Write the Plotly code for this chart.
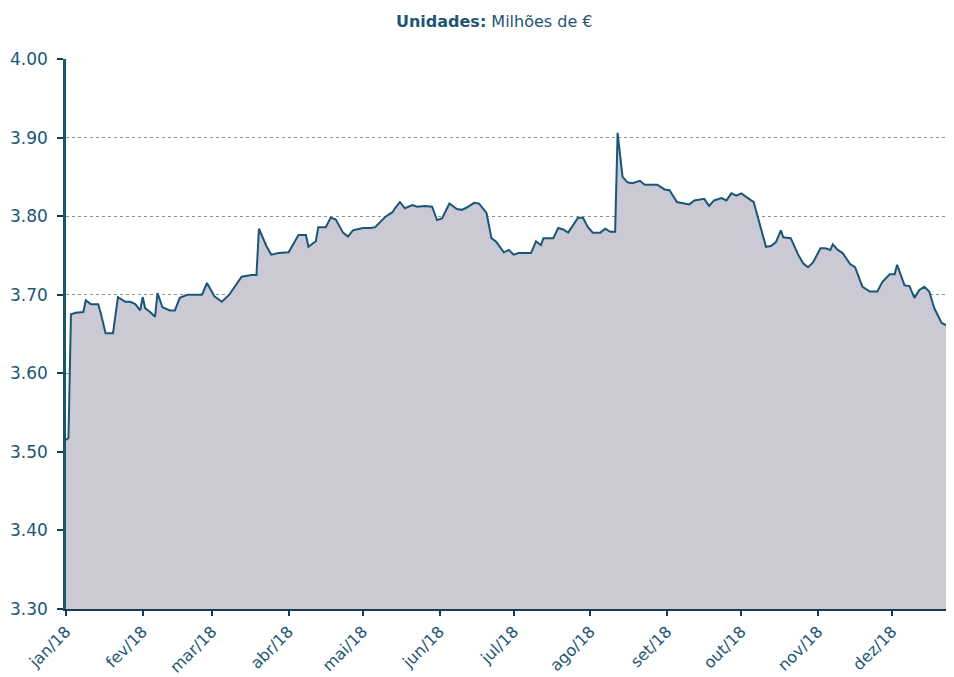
import plotly.graph_objects as go

dates = [
    "2018-01-01", "2018-01-02", "2018-01-03", "2018-01-05", "2018-01-08", "2018-01-09",
    "2018-01-11", "2018-01-14", "2018-01-15", "2018-01-17", "2018-01-20", "2018-01-22",
    "2018-01-25", "2018-01-27", "2018-01-29", "2018-01-31", "2018-02-01", "2018-02-02",
    "2018-02-04", "2018-02-06", "2018-02-07", "2018-02-09", "2018-02-12", "2018-02-14",
    "2018-02-16", "2018-02-19", "2018-02-25", "2018-02-27", "2018-03-02", "2018-03-05",
    "2018-03-08", "2018-03-13", "2018-03-17", "2018-03-19", "2018-03-20", "2018-03-23",
    "2018-03-25", "2018-03-28", "2018-04-01", "2018-04-05", "2018-04-08", "2018-04-09",
    "2018-04-12", "2018-04-13", "2018-04-16", "2018-04-18", "2018-04-20", "2018-04-23",
    "2018-04-25", "2018-04-27", "2018-05-01", "2018-05-04", "2018-05-06", "2018-05-10",
    "2018-05-13", "2018-05-14", "2018-05-16", "2018-05-18", "2018-05-21", "2018-05-23",
    "2018-05-26", "2018-05-29", "2018-05-31", "2018-06-02", "2018-06-05", "2018-06-08",
    "2018-06-10", "2018-06-12", "2018-06-15", "2018-06-17", "2018-06-20", "2018-06-22",
    "2018-06-24", "2018-06-25", "2018-06-27", "2018-06-29", "2018-07-01", "2018-07-03",
    "2018-07-08", "2018-07-10", "2018-07-12", "2018-07-13", "2018-07-17", "2018-07-19",
    "2018-07-21", "2018-07-23", "2018-07-25", "2018-07-27", "2018-07-29", "2018-07-31",
    "2018-08-02", "2018-08-05", "2018-08-07", "2018-08-09", "2018-08-11", "2018-08-12",
    "2018-08-14", "2018-08-16", "2018-08-18", "2018-08-21", "2018-08-23", "2018-08-28",
    "2018-08-31", "2018-09-02", "2018-09-05", "2018-09-10", "2018-09-12", "2018-09-16",
    "2018-09-18", "2018-09-20", "2018-09-23", "2018-09-25", "2018-09-27", "2018-09-29",
    "2018-10-01", "2018-10-03", "2018-10-05", "2018-10-06", "2018-10-08", "2018-10-11",
    "2018-10-13", "2018-10-15", "2018-10-17", "2018-10-18", "2018-10-21", "2018-10-24",
    "2018-10-26", "2018-10-28", "2018-10-30", "2018-11-02", "2018-11-04", "2018-11-06",
    "2018-11-07", "2018-11-09", "2018-11-11", "2018-11-14", "2018-11-16", "2018-11-19",
    "2018-11-22", "2018-11-25", "2018-11-27", "2018-11-30", "2018-12-02", "2018-12-03",
    "2018-12-06", "2018-12-08", "2018-12-10", "2018-12-12", "2018-12-14", "2018-12-16",
    "2018-12-18", "2018-12-21", "2018-12-23", "2018-12-24", "2018-12-27",
]

values = [
    3.515, 3.518, 3.675, 3.677, 3.678, 3.693,
    3.688, 3.688, 3.677, 3.651, 3.651, 3.697,
    3.691, 3.691, 3.688, 3.680, 3.697, 3.683,
    3.678, 3.672, 3.702, 3.684, 3.680, 3.680,
    3.696, 3.700, 3.700, 3.715, 3.698, 3.691,
    3.700, 3.723, 3.725, 3.725, 3.784, 3.762,
    3.751, 3.753, 3.754, 3.776, 3.776, 3.761,
    3.768, 3.786, 3.786, 3.798, 3.796, 3.779,
    3.774, 3.782, 3.785, 3.785, 3.786, 3.799,
    3.805, 3.810, 3.818, 3.810, 3.814, 3.812,
    3.813, 3.812, 3.795, 3.797, 3.816, 3.809,
    3.808, 3.811, 3.817, 3.816, 3.804, 3.772,
    3.767, 3.763, 3.754, 3.757, 3.751, 3.753,
    3.753, 3.768, 3.763, 3.772, 3.772, 3.785,
    3.783, 3.779, 3.788, 3.798, 3.798, 3.786,
    3.779, 3.779, 3.784, 3.780, 3.780, 3.906,
    3.850, 3.843, 3.842, 3.845, 3.840, 3.840,
    3.834, 3.833, 3.818, 3.815, 3.820, 3.822,
    3.813, 3.820, 3.823, 3.820, 3.829, 3.826,
    3.829, 3.824, 3.820, 3.818, 3.795, 3.761,
    3.762, 3.767, 3.782, 3.773, 3.772, 3.751,
    3.740, 3.735, 3.741, 3.759, 3.759, 3.757,
    3.764, 3.757, 3.753, 3.739, 3.735, 3.710,
    3.704, 3.704, 3.716, 3.726, 3.726, 3.738,
    3.712, 3.711, 3.696, 3.706, 3.710, 3.704,
    3.683, 3.664, 3.661, 3.655, 3.655,
]

tick_dates = [
    "2018-01-01", "2018-02-01", "2018-03-01", "2018-04-01", "2018-05-01", "2018-06-01",
    "2018-07-01", "2018-08-01", "2018-09-01", "2018-10-01", "2018-11-01", "2018-12-01",
]
tick_labels = [
    "jan/18", "fev/18", "mar/18", "abr/18", "mai/18", "jun/18",
    "jul/18", "ago/18", "set/18", "out/18", "nov/18", "dez/18",
]
y_ticks = [3.30, 3.40, 3.50, 3.60, 3.70, 3.80, 3.90, 4.00]

text_color = "#1d5673"
font_family = "DejaVu Sans, sans-serif"

fig = go.Figure()
fig.add_trace(go.Scatter(
    x=dates, y=values, mode="lines",
    line=dict(color="#1a5677", width=2),
    fill="tozeroy", fillcolor="#cbcad4",
    hoverinfo="skip",
))

# The page body has an 8px default margin, so the figure is sized and
# its margins set so the plot lands where the reference shows it.
fig.update_layout(
    width=946, height=669,
    margin=dict(l=58, r=0, t=51, b=68, autoexpand=False),
    paper_bgcolor="white", plot_bgcolor="white",
    showlegend=False,
    title=dict(
        text="<b>Unidades:</b> Milhões de €",
        x=0.514, xanchor="center", y=1 - 13 / 669, yanchor="middle",
        font=dict(family=font_family, size=16, color=text_color),
    ),
    font=dict(family=font_family, size=14, color=text_color),
)

fig.update_xaxes(
    type="date",
    range=["2018-01-01", "2018-12-26"],
    tickvals=tick_dates, ticktext=tick_labels,
    tickangle=-45,
    ticks="outside", ticklen=5, tickwidth=2, tickcolor="#1c3a4e",
    showline=True, linecolor="#1c3a4e", linewidth=2,
    showgrid=False, zeroline=False,
    tickfont=dict(family=font_family, size=16, color=text_color),
)

fig.update_yaxes(
    range=[3.30, 4.00],
    tickvals=y_ticks, tickformat=".2f",
    ticks="outside", ticklen=6, tickwidth=1.5, tickcolor="#1c3a4e",
    showline=True, linecolor="#17596b", linewidth=2.5,
    showgrid=True, gridcolor="#8f8f8f", gridwidth=1, griddash="dot",
    zeroline=False,
    ticklabelstandoff=6,
    tickfont=dict(family=font_family, size=17, color=text_color),
)

fig.write_html("out.html")
